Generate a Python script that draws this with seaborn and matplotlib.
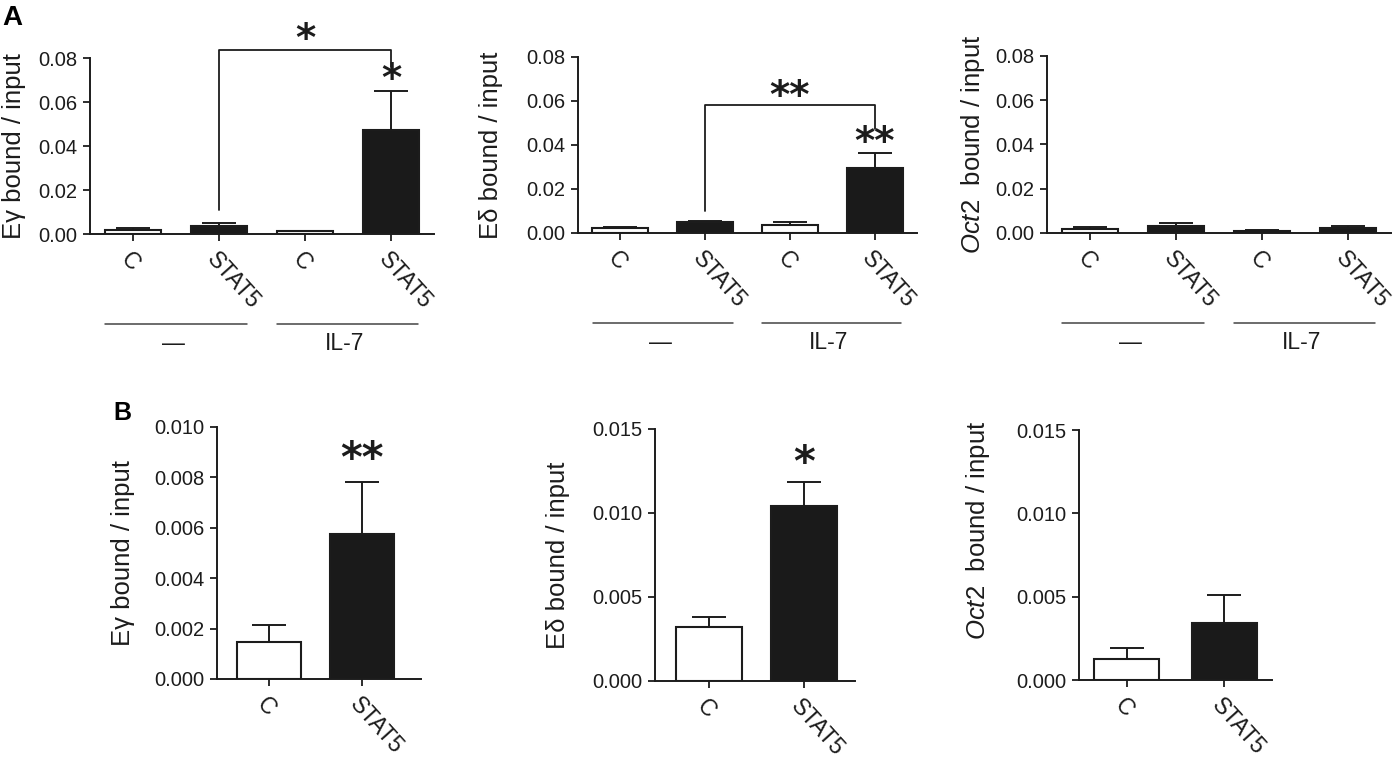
import numpy as np
import pandas as pd
import matplotlib
matplotlib.use("Agg")
import matplotlib.pyplot as plt
import matplotlib.transforms as mtransforms
import seaborn as sns

# ---------------- data ----------------
# Panel A (four conditions: antibody x treatment)
a_keys = ["C_none", "STAT5_none", "C_IL7", "STAT5_IL7"]
a_antibody = ["C", "STAT5", "C", "STAT5"]
a_groups = ["\u2014", "IL-7"]

a_eg_mean = [0.0020, 0.0038, 0.0012, 0.0474]
a_eg_err = [0.0006, 0.0010, 0.0003, 0.0178]
a_ed_mean = [0.0024, 0.0048, 0.0036, 0.0296]
a_ed_err = [0.0005, 0.0006, 0.0015, 0.0066]
a_oct_mean = [0.0018, 0.0033, 0.0008, 0.0023]
a_oct_err = [0.0009, 0.0014, 0.0004, 0.0009]

# Panel B (two antibodies)
b_keys = ["C", "STAT5"]
b_antibody = ["C", "STAT5"]
b_eg_mean = [0.00148, 0.00575]
b_eg_err = [0.00067, 0.00205]
b_ed_mean = [0.0032, 0.01043]
b_ed_err = [0.0006, 0.00143]
b_oct_mean = [0.00124, 0.00342]
b_oct_err = [0.00066, 0.00166]

a_yticks = [0.00, 0.02, 0.04, 0.06, 0.08]
b_eg_yticks = [0.000, 0.002, 0.004, 0.006, 0.008, 0.010]
b_ed_yticks = [0.000, 0.005, 0.010, 0.015]

fill = {"C": "white", "STAT5": "#1a1a1a"}

# ---------------- style ----------------
sns.set_theme(style="ticks")
plt.rcParams["font.family"] = ["Liberation Sans", "DejaVu Sans"]
plt.rcParams["mathtext.fontset"] = "custom"
plt.rcParams["mathtext.rm"] = "Liberation Sans"
plt.rcParams["mathtext.it"] = "Liberation Sans:italic"
INK = "#1c1c1c"

fig = plt.figure(figsize=(13.98, 7.70), dpi=100)
W, H = 1398.0, 770.0


def axes_px(left, right, top, bottom):
    return fig.add_axes([left / W, 1 - bottom / H, (right - left) / W, (bottom - top) / H])


def draw_panel(ax, keys, antibody, means, errs, width, yticks, fmt, xlim, ylabel,
               label_x, label_y=0.5):
    df = pd.DataFrame({"key": keys, "antibody": antibody, "value": means})
    pal = {k: fill[a] for k, a in zip(keys, antibody)}
    sns.barplot(data=df, x="key", y="value", hue="key", order=keys, hue_order=keys,
                palette=pal, edgecolor=INK, linewidth=1.5, width=width,
                errorbar=None, legend=False, saturation=1, ax=ax)
    n = len(keys)
    ax.errorbar(np.arange(n), means, yerr=[np.zeros(n), errs], fmt="none",
                ecolor=INK, elinewidth=1.4, capsize=12, capthick=1.4, zorder=3)
    ax.set_xlim(*xlim)
    ax.set_ylim(yticks[0], yticks[-1])
    ax.set_yticks(yticks)
    ax.set_yticklabels([fmt.format(v) for v in yticks], fontsize=14.5, color=INK)
    ax.set_xticks(np.arange(n))
    ax.set_xticklabels(antibody, fontsize=16.5, color=INK, rotation=-48,
                       ha="left", va="top", rotation_mode="anchor")
    ax.set_xlabel("")
    ax.set_ylabel(ylabel, fontsize=18.5, color=INK)
    ax.yaxis.set_label_coords(label_x, label_y)
    sns.despine(ax=ax)
    for s in ("left", "bottom"):
        ax.spines[s].set_linewidth(1.4)
        ax.spines[s].set_color(INK)
    ax.tick_params(axis="both", length=5, width=1.3, color=INK, pad=4)
    ax.tick_params(axis="x", pad=5)
    ax.set_facecolor("white")


def star(ax, x, y, s, size=28):
    ax.text(x, y, s, ha="center", va="center", fontsize=size, fontweight="bold",
            color=INK, clip_on=False, family="DejaVu Sans")


def bracket(ax, x0, x1, y0, ytop, y1):
    ax.plot([x0, x0, x1, x1], [y0, ytop, ytop, y1], color=INK, lw=1.3,
            clip_on=False, zorder=4)


def groups(ax):
    tr = mtransforms.blended_transform_factory(ax.transData, ax.transAxes)
    spans = [(-0.32, 1.33), (1.67, 3.31)]
    for (x0, x1), g in zip(spans, a_groups):
        ax.plot([x0, x1], [-0.51, -0.51], color="#444444", lw=1.1, transform=tr,
                clip_on=False)
        ax.text((x0 + x1) / 2 - 0.03, -0.62, g, transform=tr, ha="center", va="center",
                fontsize=16.5, color=INK)


# ---------------- panel A ----------------
axA1 = axes_px(90, 434, 58, 234)
draw_panel(axA1, a_keys, a_antibody, a_eg_mean, a_eg_err, 0.66, a_yticks, "{:.2f}",
           (-0.5, 3.5), "E\u03b3 bound / input", -0.186)
bracket(axA1, 1, 3, 0.011, 0.0835, 0.076)
star(axA1, 2, 0.0880, "*")
star(axA1, 3, 0.0700, "*")
groups(axA1)

axA2 = axes_px(578, 917, 57, 233)
draw_panel(axA2, a_keys, a_antibody, a_ed_mean, a_ed_err, 0.66, a_yticks, "{:.2f}",
           (-0.5, 3.5), "E\u03b4 bound / input", -0.221)
bracket(axA2, 1, 3, 0.0098, 0.058, 0.0475)
star(axA2, 2, 0.0620, "**")
star(axA2, 3, 0.0410, "**")
groups(axA2)

axA3 = axes_px(1047, 1391, 56, 233)
draw_panel(axA3, a_keys, a_antibody, a_oct_mean, a_oct_err, 0.66, a_yticks, "{:.2f}",
           (-0.5, 3.5), "$\\mathit{Oct2}$  bound / input", -0.174)
groups(axA3)

# ---------------- panel B ----------------
axB1 = axes_px(217, 421, 427, 679)
draw_panel(axB1, b_keys, b_antibody, b_eg_mean, b_eg_err, 0.69, b_eg_yticks, "{:.3f}",
           (-0.56, 1.63), "E\u03b3 bound / input", -0.40)
star(axB1, 1, 0.0087, "**", size=30)

axB2 = axes_px(655, 855, 429, 681)
draw_panel(axB2, b_keys, b_antibody, b_ed_mean, b_ed_err, 0.69, b_ed_yticks, "{:.3f}",
           (-0.57, 1.54), "E\u03b4 bound / input", -0.425)
star(axB2, 1, 0.0129, "*", size=30)

axB3 = axes_px(1079, 1272, 430, 680)
draw_panel(axB3, b_keys, b_antibody, b_oct_mean, b_oct_err, 0.67, b_ed_yticks, "{:.3f}",
           (-0.49, 1.49), "$\\mathit{Oct2}$  bound / input", -0.45, 0.6)

# panel letters
fig.text(2 / W, 1 - 25 / H, "A", fontsize=20, fontweight="bold", color="black",
         va="baseline", ha="left")
fig.text(113 / W, 1 - 420 / H, "B", fontsize=18, fontweight="bold", color="black",
         va="baseline", ha="left")

fig.savefig("out.png", dpi=100, facecolor="white")
